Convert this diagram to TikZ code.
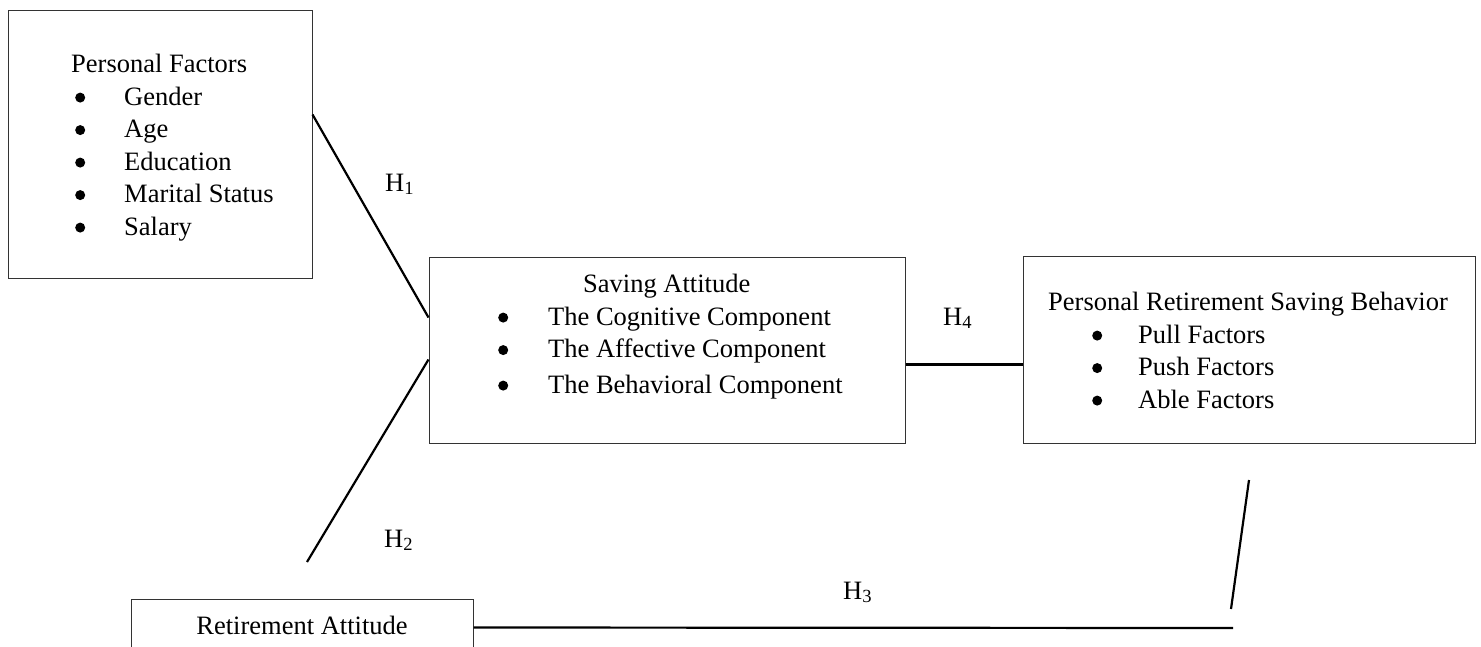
\documentclass[tikz,border=0pt]{standalone}
\usepackage{fontspec}
\setmainfont{Liberation Serif}
\usetikzlibrary{positioning}
\newcommand{\bul}{\tikz[baseline=-7.5pt]\fill (0pt,0pt) circle (5pt);}
\newcommand{\itembul}[2]{\makebox[#1][l]{\bul}#2}

\begin{document}
\begin{tikzpicture}[
  x=1pt, y=-1pt,
  font=\fontsize{26.5pt}{32.5pt}\selectfont,
  box/.style={draw=black!80, line width=1pt, inner sep=0pt},
  txt/.style={align=left, inner sep=0pt, anchor=north west},
  lbl/.style={inner sep=0pt, anchor=base west},
  link/.style={line width=2.2pt}
]
\useasboundingbox (0,0) rectangle (1481,646);

\node[box, minimum width=304pt, minimum height=268pt] (pf) at (160,144) {};
\node[box, minimum width=476pt, minimum height=186pt] (sa) at (667,350) {};
\node[box, minimum width=452pt, minimum height=187pt] (prsb) at (1249,349.5) {};
\node[box, minimum width=342pt, minimum height=92pt] (ra) at (302,645) {};

\node[txt] (pf-txt) at (71,54) {Personal Factors\\
  \hspace*{4pt}\itembul{49pt}{Gender}\\
  \hspace*{4pt}\itembul{49pt}{Age}\\
  \hspace*{4pt}\itembul{49pt}{Education}\\
  \hspace*{4pt}\itembul{49pt}{Marital Status}\\
  \hspace*{4pt}\itembul{49pt}{Salary}};
\node[txt] (sa-txt) at (498,274) {\hspace*{85pt}Saving Attitude\\
  \itembul{50pt}{The Cognitive Component}\\
  \itembul{50pt}{The Affective Component}\\[3pt]
  \itembul{50pt}{The Behavioral Component}};
\node[txt] (prsb-txt) at (1048,292) {Personal Retirement Saving Behavior\\
  \hspace*{44pt}\itembul{46pt}{Pull Factors}\\
  \hspace*{44pt}\itembul{46pt}{Push Factors}\\
  \hspace*{44pt}\itembul{46pt}{Able Factors}};
\node[txt, anchor=north] (ra-txt) at (302,616) {Retirement Attitude};

\coordinate (h2end) at (307,562);
\coordinate (h3end) at (1233,628);
\coordinate (h3low) at (1231,609);
\coordinate (h3up) at (1249,480);

% hypotheses
\draw[link] ([yshift=-105pt]pf.north east) -- ([yshift=-61pt]sa.north west);
\draw[link] ([yshift=-103pt]sa.north west) -- (h2end);
\draw[link] ([yshift=-29pt]ra.north east) -- (h3end);
\draw[link] (h3low) -- (h3up);
\draw[link] ([yshift=-108pt]sa.north east) -- ([yshift=-109pt]prsb.north west);

\node[lbl] (h1) at (385,191) {H\textsubscript{1}};
\node[lbl] (h2) at (384,547) {H\textsubscript{2}};
\node[lbl] (h3) at (843,599) {H\textsubscript{3}};
\node[lbl] (h4) at (943,325) {H\textsubscript{4}};
\end{tikzpicture}
\end{document}
